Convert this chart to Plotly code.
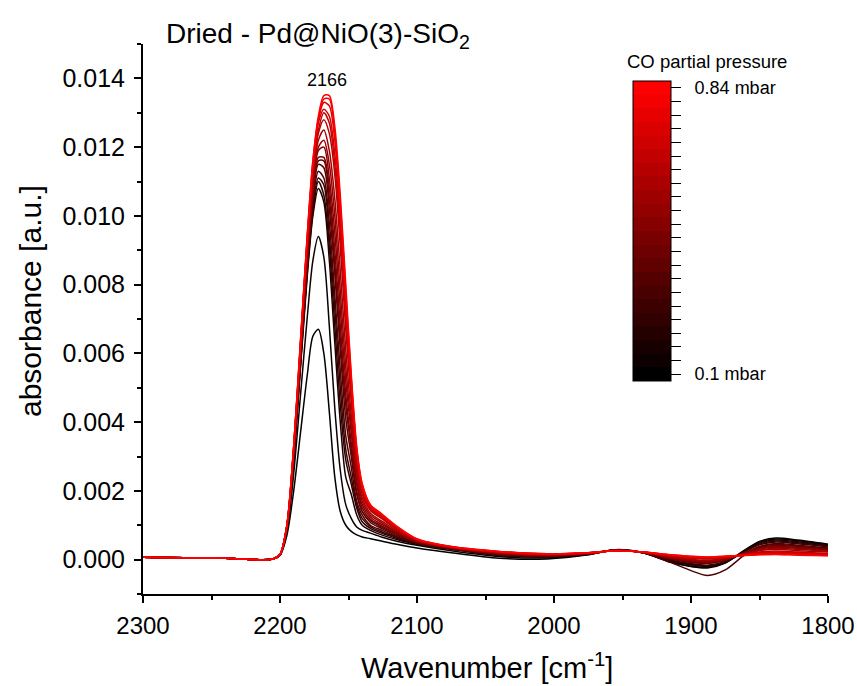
import plotly.graph_objects as go

# wavenumber grid (cm-1)
wavenumber = [2300, 2240, 2215, 2205, 2200, 2195, 2190, 2185, 2180, 2176, 2172, 2168, 2164, 2160,
              2156, 2152, 2148, 2144, 2140, 2134, 2126, 2114, 2100, 2075, 2040, 2005, 1975, 1955,
              1935, 1915, 1900, 1888, 1875, 1862, 1850, 1838, 1822, 1800]

# CO partial pressure of each spectrum (mbar)
pressure = [0.10, 0.14, 0.19, 0.23, 0.27, 0.32, 0.36, 0.40, 0.45, 0.49, 0.54, 0.58, 0.62, 0.67,
            0.71, 0.75, 0.80, 0.84]

# absorbance spectra, one per pressure
a01 = [0.00007, 0.00004, 0.0, 0.00002, 0.00012, 0.0007, 0.0020, 0.0037, 0.0054, 0.0065, 0.0067, 0.0060, 0.0043, 0.0024,
       0.0014, 0.0010, 0.00082, 0.00072, 0.00066, 0.00061, 0.00054, 0.00044, 0.00034, 0.0002, 0.00004, 0.00002, 0.00014, 0.00029,
       0.0002, -0.00008, -0.0002, -0.00024, -0.0001, 0.00025, 0.00053, 0.00063, 0.00057, 0.00045]
a02 = [0.00007, 0.00004, 0.0, 0.00002, 0.00013, 0.0008, 0.0025, 0.0048, 0.0071, 0.0087, 0.0094, 0.0088, 0.0068, 0.0044,
       0.0026, 0.0016, 0.0012, 0.00095, 0.00085, 0.00077, 0.00066, 0.00053, 0.00042, 0.00026, 0.00009, 0.00005, 0.00015, 0.00029,
       0.0002, -0.00006, -0.00019, -0.00022, -0.00009, 0.00024, 0.00051, 0.0006, 0.00055, 0.00044]
a03 = [0.00007, 0.00004, 0.0, 0.00002, 0.00014, 0.0009, 0.0029, 0.0056, 0.0083, 0.0100, 0.0108, 0.0104, 0.0087, 0.0063,
       0.0040, 0.0024, 0.0019, 0.0013, 0.0010, 0.00085, 0.00072, 0.00058, 0.00045, 0.0003, 0.00012, 0.00008, 0.00016, 0.00028,
       0.0002, -0.00004, -0.00016, -0.0002, -0.00008, 0.00022, 0.00048, 0.00057, 0.00052, 0.00042]
a04 = [0.00007, 0.00004, 0.0, 0.00002, 0.00014, 0.00091, 0.0029, 0.0057, 0.0084, 0.0101, 0.0110, 0.0106, 0.0091, 0.0068,
       0.0045, 0.0029, 0.0022, 0.0015, 0.0011, 0.00091, 0.00077, 0.00061, 0.00046, 0.00031, 0.00013, 0.00009, 0.00016, 0.00028,
       0.0002, -0.00003, -0.00014, -0.00018, -0.00007, 0.00021, 0.00045, 0.00054, 0.00049, 0.0004]
a05 = [0.00007, 0.00004, 0.0, 0.00002, 0.00014, 0.00092, 0.0030, 0.0057, 0.0085, 0.0102, 0.0111, 0.0109, 0.0094, 0.0073,
       0.0050, 0.0032, 0.0024, 0.0016, 0.0012, 0.00096, 0.00081, 0.00064, 0.00047, 0.00031, 0.00014, 0.00009, 0.00017, 0.00028,
       0.0002, -0.00001, -0.00012, -0.00016, -0.00005, 0.00021, 0.00043, 0.00051, 0.00046, 0.00037]
a06 = [0.00007, 0.00004, 0.0, 0.00002, 0.00014, 0.00092, 0.0030, 0.0058, 0.0086, 0.0104, 0.0113, 0.0111, 0.0098, 0.0077,
       0.0055, 0.0036, 0.0027, 0.0017, 0.0013, 0.0010, 0.00086, 0.00066, 0.00048, 0.00032, 0.00015, 0.0001, 0.00017, 0.00028,
       0.0002, -0.00008, -0.00032, -0.00046, -0.0003, 0.0001, 0.00038, 0.00047, 0.00042, 0.00034]
a07 = [0.00007, 0.00004, 0.0, 0.00002, 0.00014, 0.00093, 0.0030, 0.0059, 0.0087, 0.0105, 0.0115, 0.0114, 0.0102, 0.0083,
       0.0061, 0.0041, 0.0030, 0.0019, 0.0014, 0.00108, 0.00091, 0.00069, 0.0005, 0.00032, 0.00016, 0.00011, 0.00017, 0.00027,
       0.0002, 0.00002, -0.00008, -0.00011, -0.00002, 0.00019, 0.00037, 0.00044, 0.0004, 0.00032]
a08 = [0.00007, 0.00004, 0.0, 0.00002, 0.00014, 0.00094, 0.0031, 0.0059, 0.0087, 0.0106, 0.0116, 0.0116, 0.0105, 0.0086,
       0.0064, 0.0045, 0.0032, 0.0020, 0.0014, 0.00113, 0.00095, 0.00072, 0.00051, 0.00033, 0.00016, 0.00011, 0.00017, 0.00027,
       0.00021, 0.00003, -0.00006, -0.0001, -0.00001, 0.00018, 0.00035, 0.00041, 0.00038, 0.00031]
a09 = [0.00007, 0.00004, 0.0, 0.00002, 0.00014, 0.00094, 0.0031, 0.0059, 0.0088, 0.0107, 0.0117, 0.0117, 0.0108, 0.0090,
       0.0068, 0.0048, 0.0034, 0.0022, 0.0015, 0.00117, 0.00099, 0.00074, 0.00051, 0.00033, 0.00017, 0.00012, 0.00018, 0.00027,
       0.00021, 0.00004, -0.00005, -0.00008, 0.0, 0.00018, 0.00033, 0.00039, 0.00035, 0.00029]
a10 = [0.00007, 0.00004, 0.0, 0.00002, 0.00015, 0.00095, 0.0031, 0.0060, 0.0089, 0.0108, 0.0119, 0.0120, 0.0111, 0.0095,
       0.0073, 0.0052, 0.0037, 0.0023, 0.0016, 0.00123, 0.00103, 0.00077, 0.00052, 0.00034, 0.00018, 0.00012, 0.00018, 0.00027,
       0.00021, 0.00005, -0.00003, -0.00006, 0.00001, 0.00017, 0.00031, 0.00036, 0.00033, 0.00027]
a11 = [0.00007, 0.00004, 0.0, 0.00002, 0.00015, 0.00096, 0.0031, 0.0061, 0.0090, 0.0109, 0.0120, 0.0122, 0.0115, 0.0100,
       0.0078, 0.0056, 0.0039, 0.0025, 0.0017, 0.00129, 0.00108, 0.00079, 0.00054, 0.00035, 0.00019, 0.00013, 0.00018, 0.00027,
       0.00021, 0.00006, -0.00001, -0.00004, 0.00002, 0.00016, 0.00028, 0.00033, 0.0003, 0.00024]
a12 = [0.00007, 0.00004, 0.0, 0.00002, 0.00015, 0.00097, 0.0032, 0.0061, 0.0091, 0.0111, 0.0122, 0.0125, 0.0119, 0.0105,
       0.0084, 0.0061, 0.0042, 0.0026, 0.0018, 0.00135, 0.00113, 0.00082, 0.00055, 0.00035, 0.0002, 0.00014, 0.00019, 0.00027,
       0.00021, 0.00008, 0.00001, -0.00002, 0.00004, 0.00015, 0.00026, 0.0003, 0.00026, 0.00022]
a13 = [0.00007, 0.00004, 0.0, 0.00002, 0.00015, 0.00098, 0.0032, 0.0062, 0.0092, 0.0112, 0.0124, 0.0128, 0.0124, 0.0112,
       0.0091, 0.0067, 0.0046, 0.0028, 0.0019, 0.00143, 0.0012, 0.00086, 0.00057, 0.00036, 0.00021, 0.00015, 0.00019, 0.00026,
       0.00022, 0.0001, 0.00004, 0.00002, 0.00006, 0.00014, 0.00022, 0.00025, 0.00022, 0.00018]
a14 = [0.00007, 0.00004, 0.0, 0.00002, 0.00015, 0.00098, 0.0032, 0.0063, 0.0093, 0.0113, 0.0125, 0.0130, 0.0127, 0.0115,
       0.0095, 0.0071, 0.0048, 0.0030, 0.0020, 0.00147, 0.00123, 0.00089, 0.00057, 0.00037, 0.00022, 0.00015, 0.00019, 0.00026,
       0.00022, 0.00011, 0.00006, 0.00003, 0.00007, 0.00013, 0.0002, 0.00022, 0.0002, 0.00016]
a15 = [0.00007, 0.00004, 0.0, 0.00002, 0.00015, 0.00099, 0.0033, 0.0063, 0.0094, 0.0114, 0.0127, 0.0131, 0.0129, 0.0118,
       0.0098, 0.0073, 0.0050, 0.0031, 0.0021, 0.00151, 0.00127, 0.00091, 0.00058, 0.00037, 0.00023, 0.00016, 0.0002, 0.00026,
       0.00022, 0.00012, 0.00007, 0.00005, 0.00008, 0.00013, 0.00018, 0.0002, 0.00018, 0.00015]
a16 = [0.00007, 0.00004, 0.0, 0.00002, 0.00015, 0.00099, 0.0033, 0.0063, 0.0094, 0.0115, 0.0128, 0.0133, 0.0132, 0.0122,
       0.0101, 0.0076, 0.0052, 0.0032, 0.0021, 0.00155, 0.0013, 0.00092, 0.00059, 0.00037, 0.00023, 0.00016, 0.0002, 0.00026,
       0.00022, 0.00013, 0.00008, 0.00006, 0.00009, 0.00013, 0.00016, 0.00018, 0.00016, 0.00014]
a17 = [0.00007, 0.00004, 0.0, 0.00002, 0.00015, 0.0010, 0.0033, 0.0064, 0.0095, 0.0116, 0.0128, 0.0134, 0.0134, 0.0124,
       0.0104, 0.0078, 0.0053, 0.0032, 0.0022, 0.00158, 0.00132, 0.00094, 0.0006, 0.00038, 0.00024, 0.00017, 0.0002, 0.00026,
       0.00022, 0.00014, 0.00009, 0.00007, 0.0001, 0.00012, 0.00015, 0.00016, 0.00014, 0.00012]
a18 = [0.00007, 0.00004, 0.0, 0.00002, 0.00015, 0.0010, 0.0033, 0.0064, 0.0095, 0.0116, 0.0129, 0.0135, 0.0135, 0.0126,
       0.0106, 0.0080, 0.0054, 0.0033, 0.0022, 0.0016, 0.00134, 0.00095, 0.0006, 0.00038, 0.00024, 0.00017, 0.0002, 0.00026,
       0.00022, 0.00014, 0.0001, 0.00008, 0.0001, 0.00012, 0.00014, 0.00015, 0.00013, 0.00011]
spectra = [a01, a02, a03, a04, a05, a06, a07, a08, a09, a10, a11, a12, a13, a14, a15, a16, a17, a18]

# colour bar: 22 steps, ends labelled
cbar_steps = 22
cbar_labels = ["0.1 mbar", "0.84 mbar"]

p_min, p_max = 0.10, 0.84
FONT = "Liberation Sans, Arial, sans-serif"
NB = "\u00a0"

fig = go.Figure()
for p, ys in zip(pressure, spectra):
    frac = (p - p_min) / (p_max - p_min)
    col = f"rgb({round(255 * frac)},0,0)"
    fig.add_trace(go.Scatter(x=wavenumber, y=ys, mode="lines",
                             line=dict(color=col, width=1.5, shape="spline", smoothing=0.8),
                             showlegend=False, hoverinfo="skip"))

# stepped black->red colorscale
cs = []
for k in range(cbar_steps):
    c = f"rgb({round(255 * k / (cbar_steps - 1))},0,0)"
    cs.append([k / cbar_steps, c])
    cs.append([(k + 1) / cbar_steps, c])
ticktext = [""] * cbar_steps
ticktext[0] = NB * 2 + cbar_labels[0]
ticktext[-1] = NB * 2 + cbar_labels[1]

fig.add_trace(go.Scatter(
    x=[2000], y=[0.0], mode="markers",
    marker=dict(size=0.1, opacity=0, color=[0], colorscale=cs, cmin=-0.5, cmax=cbar_steps - 0.5,
                showscale=True,
                colorbar=dict(x=(633 - 143) / 685, xanchor="left", xpad=0,
                              y=(594 - 81) / 550, yanchor="top", ypad=0,
                              lenmode="pixels", len=300, thickness=38,
                              outlinewidth=1, outlinecolor="black",
                              tickmode="array", tickvals=list(range(cbar_steps)), ticktext=ticktext,
                              ticks="outside", ticklen=10, tickwidth=1.2, tickcolor="black",
                              tickfont=dict(family=FONT, size=18, color="black"))),
    showlegend=False, hoverinfo="skip"))

fig.update_layout(
    width=857, height=686,
    margin=dict(l=143, r=29, t=44, b=92),
    paper_bgcolor="white", plot_bgcolor="white",
    font=dict(family=FONT, color="black"),
    title=dict(text="Dried - Pd@NiO(3)-SiO<sub>2</sub>", x=166 / 857, xanchor="left",
               y=1 - 33 / 686, yanchor="middle", font=dict(size=28, family=FONT, color="black")),
    xaxis=dict(range=[2300, 1800], showgrid=False, zeroline=False, automargin=False,
               showline=True, linecolor="black", linewidth=2, mirror=False,
               tickmode="linear", tick0=1800, dtick=100,
               ticks="outside", ticklen=7, tickwidth=2, tickcolor="black",
               minor=dict(ticks="outside", ticklen=4, dtick=50, tickwidth=2, tickcolor="black"),
               ticklabelstandoff=2,
               tickfont=dict(size=24, family=FONT, color="black")),
    yaxis=dict(range=[-0.001, 0.015], showgrid=False, zeroline=False, automargin=False,
               showline=True, linecolor="black", linewidth=2, mirror=False,
               tickmode="linear", tick0=0, dtick=0.002, tickformat=".3f",
               ticks="outside", ticklen=7, tickwidth=2, tickcolor="black",
               minor=dict(ticks="outside", ticklen=4, dtick=0.001, tickwidth=2, tickcolor="black"),
               ticklabelstandoff=4,
               tickfont=dict(size=25, family=FONT, color="black")),
    annotations=[
        dict(text="absorbance [a.u.]", xref="paper", yref="paper", x=(30 - 143) / 685, y=(594 - 301) / 550,
             textangle=-90, showarrow=False, xanchor="center", yanchor="middle",
             font=dict(size=30, family=FONT, color="black")),
        dict(text="Wavenumber [cm<sup>-1</sup>]", xref="paper", yref="paper", x=(487 - 143) / 685,
             y=(594 - 666) / 550, showarrow=False, xanchor="center", yanchor="middle",
             font=dict(size=29, family=FONT, color="black")),
        dict(text="CO partial pressure", xref="paper", yref="paper", x=(707 - 143) / 685, y=(594 - 62) / 550,
             showarrow=False, xanchor="center", yanchor="middle",
             font=dict(size=18.5, family=FONT, color="black")),
        dict(text="2166", x=2166, y=0.01394, xref="x", yref="y", showarrow=False,
             xanchor="center", yanchor="middle", font=dict(size=18, family=FONT, color="black")),
    ],
)

fig.write_html("out.html")
